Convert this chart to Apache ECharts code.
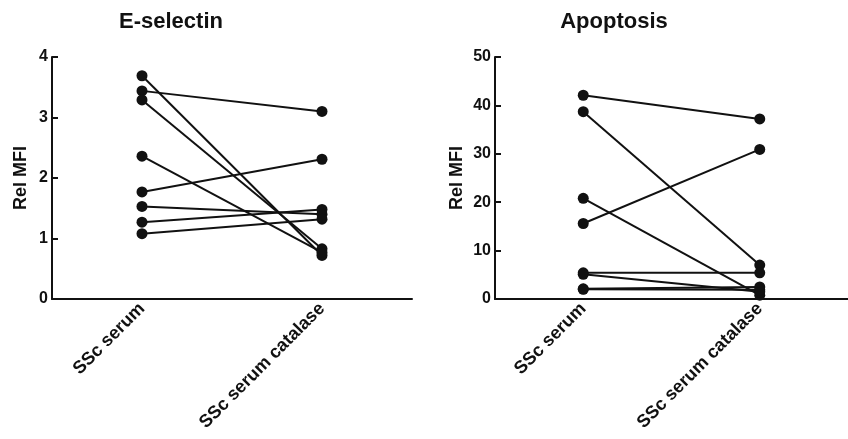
<!DOCTYPE html>
<html>
<head>
<meta charset="utf-8">
<script src="https://cdn.jsdelivr.net/npm/echarts@6/dist/echarts.min.js"></script>
<style>
  html, body { margin: 0; padding: 0; background: #fff; }
  #chart { width: 848px; height: 439px; }
</style>
</head>
<body>
<div id="chart"></div>
<script>
// Paired measurements: each sample with SSc serum alone and with catalase added
const categories = ['SSc serum', 'SSc serum catalase'];

const eselectinSerum    = [3.69, 3.44, 3.29, 2.36, 1.77, 1.53, 1.27, 1.08];
const eselectinCatalase = [0.72, 3.10, 0.83, 0.77, 2.31, 1.40, 1.48, 1.32];

const apoptosisSerum    = [42.1, 38.7, 20.8, 15.6, 5.4, 5.1, 2.1, 2.0];
const apoptosisCatalase = [37.2, 7.0, 0.8, 30.9, 5.4, 1.5, 2.5, 1.9];

const eselectinTicks = { min: 0, max: 4, interval: 1 };
const apoptosisTicks = { min: 0, max: 50, interval: 10 };

const FONT = '"Liberation Sans", Arial, sans-serif';
const INK = '#111';

function pairedSeries(before, after, axisIndex) {
  return before.map((v, i) => ({
    type: 'line',
    xAxisIndex: axisIndex,
    yAxisIndex: axisIndex,
    data: [v, after[i]],
    symbol: 'circle',
    symbolSize: 11,
    showSymbol: true,
    lineStyle: { color: INK, width: 2 },
    itemStyle: { color: INK },
    emphasis: { disabled: true },
    animation: false,
    z: 3
  }));
}

function xAxisFor(gridIndex) {
  return {
    type: 'category',
    gridIndex,
    data: categories,
    boundaryGap: true,
    axisLine: { lineStyle: { color: INK, width: 2 } },
    axisTick: { inside: true, alignWithLabel: true, length: 6, lineStyle: { color: INK, width: 2 } },
    axisLabel: {
      rotate: 45, margin: 7, color: INK,
      fontFamily: FONT, fontWeight: 'bold', fontSize: 18
    },
    splitLine: { show: false }
  };
}

function yAxisFor(gridIndex, ticks, nameGap) {
  return {
    type: 'value',
    gridIndex,
    min: ticks.min, max: ticks.max, interval: ticks.interval,
    name: 'Rel MFI',
    nameLocation: 'middle',
    nameRotate: 90,
    nameGap,
    nameTextStyle: { color: INK, fontFamily: FONT, fontWeight: 'bold', fontSize: 18 },
    axisLine: { show: true, lineStyle: { color: INK, width: 2 } },
    axisTick: { show: true, inside: true, length: 6, lineStyle: { color: INK, width: 2 } },
    axisLabel: { margin: 4, color: INK, fontFamily: FONT, fontWeight: 'bold', fontSize: 16 },
    splitLine: { show: false }
  };
}

const chart = echarts.init(document.getElementById('chart'), null, { renderer: 'canvas' });
chart.setOption({
  backgroundColor: '#fff',
  animation: false,
  title: [
    { text: 'E-selectin', left: 166, top: 6, textAlign: 'center',
      textStyle: { color: INK, fontFamily: FONT, fontWeight: 'bold', fontSize: 22 } },
    { text: 'Apoptosis', left: 609, top: 6, textAlign: 'center',
      textStyle: { color: INK, fontFamily: FONT, fontWeight: 'bold', fontSize: 22 } }
  ],
  grid: [
    { left: 52, top: 57, width: 360, height: 242 },
    { left: 495, top: 57, width: 358, height: 242 }
  ],
  xAxis: [xAxisFor(0), xAxisFor(1)],
  yAxis: [yAxisFor(0, eselectinTicks, 22), yAxisFor(1, apoptosisTicks, 29)],
  series: [
    ...pairedSeries(eselectinSerum, eselectinCatalase, 0),
    ...pairedSeries(apoptosisSerum, apoptosisCatalase, 1)
  ]
});
</script>
</body>
</html>
